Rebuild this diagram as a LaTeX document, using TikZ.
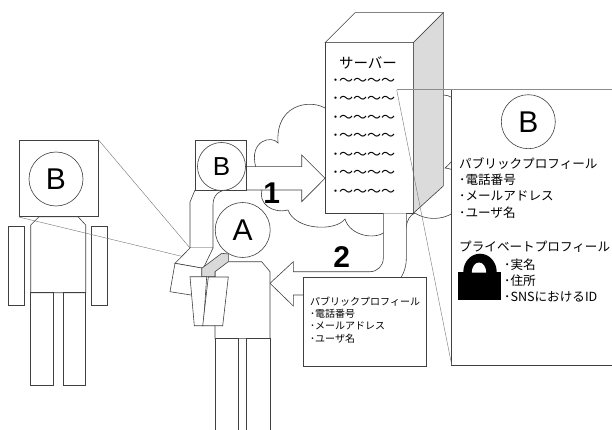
\documentclass[tikz,border=0pt]{standalone}
\usepackage{fontspec}
\setmainfont{Noto Sans CJK JP}
\newfontfamily\latinsans{Liberation Sans}
\tikzset{
  outline/.style={draw=black!75,line width=0.6pt},
  sightline/.style={draw=black!55,line width=0.4pt},
  face/.style={outline,circle,fill=white,inner sep=0pt,minimum size=#1},
  letter/.style={font=\latinsans\fontsize{#1}{#1}\selectfont},
  jp/.style={anchor=west,inner sep=0pt,font=\fontsize{#1}{#1}\selectfont},
  stepnum/.style={inner sep=0pt,font=\latinsans\bfseries\fontsize{30}{30}\selectfont},
}
\begin{document}
\begin{tikzpicture}[x=1pt,y=-1pt]
  \useasboundingbox (0,0) rectangle (612,430);
  \clip (0,0) rectangle (612,430);
  % person B on the left
  \node[outline,minimum width=79pt,minimum height=76.7pt,inner sep=0pt] (boxB) at (58.5,178.3) {};
  \node[face=54pt,letter=30] (headB) at (56,179) {B};
  \draw[outline] (39,216.7) -- (78,216.7) -- (85.7,225) -- (85.7,292.7)
    -- (30.7,292.7) -- (30.7,225) -- cycle;
  \draw[outline] (8.3,226) rectangle (24.3,305);
  \draw[outline] (91.7,226) rectangle (107.7,305);
  \draw[outline] (30.7,292.7) rectangle (53.3,385);
  \draw[outline] (63.3,292.7) rectangle (85.7,385.7);
  % sight lines towards the hand
  \coordinate (handL) at (190,248);
  \coordinate (handM) at (181.7,256.3);
  \draw[sightline] (boxB.north east) -- (handL);
  \draw[sightline] (boxB.south west) -- (handM);
  % cloud behind the server
  \draw[outline,fill=white] (330,112) .. controls (318,98) and (275,100) .. (278,143)
    .. controls (272,135) and (248,140) .. (256,168)
    .. controls (244,175) and (249,190) .. (262,190)
    .. controls (258,203) and (272,214) .. (288,210)
    .. controls (295,230) and (335,232) .. (345,219)
    .. controls (350,236) and (375,240) .. (385,232)
    -- (406,228)
    .. controls (407,220) and (410,215) .. (415,213)
    .. controls (428,222) and (452,220) .. (460,205)
    .. controls (470,190) and (465,170) .. (445,168)
    .. controls (468,150) and (470,95) .. (443,95)
    -- (420,100) -- cycle;
  % server
  \draw[outline,fill=white] (325,42.7) rectangle (413.3,213.3);
  \draw[outline,fill=white] (325,42.7) -- (355,12.7) -- (443.3,12.7) -- (413.3,42.7) -- cycle;
  \draw[outline,fill=black!14] (413.3,42.7) -- (443.3,12.7) -- (443.3,186) -- (413.3,213.3) -- cycle;
  \node[inner sep=0pt,font=\fontsize{14.5}{14.5}\selectfont] (srvname) at (368,63) {サーバー};
  \foreach \row in {0,...,6}
    \node[jp=14] (srvline\row) at (332,{81.7+18.5*\row}) {･〜〜〜〜};
  % arrow 2 back to A
  \draw[outline,fill=white] (383.3,213.3) -- (383.3,258.3)
    .. controls (383.3,265.7) and (377.4,271.7) .. (370,271.7)
    -- (293.3,271.7) -- (293.3,261.7) -- (270,283.3) -- (293.3,306) -- (293.3,295)
    -- (370,295) .. controls (390,295) and (406.3,278.7) .. (406.3,258.7) -- (406.3,213.3);
  \node[stepnum] (two) at (341.7,256.7) {2};
  % raised arm and arrow 1
  \draw[outline,fill=white] (195,190) -- (190,202) -- (190,248) -- (213,248) -- (213,205)
    .. controls (213,196) and (218,190) .. (228,190) -- (301.7,190) -- (301.7,201.7)
    -- (325,178.3) -- (301.7,155) -- (301.7,166.7) -- (246.7,166.7);
  \node[outline,fill=white,minimum width=51.7pt,minimum height=50pt,inner sep=0pt] (screen) at (220.8,165) {};
  \node[face=48pt,letter=26] (headBs) at (221.5,166.5) {B};
  \node[stepnum] (one) at (271.7,193) {1};
  % person A
  \draw[outline,fill=white] (handL) -- (175,263.3) -- (203.3,268.3) -- (213,248);
  \draw[outline,fill=white] (175,263.3) -- (203.3,268.3) -- (201.7,296.7) -- (170,291.7) -- cycle;
  \draw[outline,fill=white] (228.3,261.7) -- (261.7,261.7) -- (270,271.7) -- (270,338.3)
    -- (215,338.3) -- (215,271.7);
  \draw[outline,fill=black!15] (201.7,268.3) -- (221.7,253.3) -- (228.3,254) -- (228.3,261.7)
    -- (215,271.7) -- (215,276.7) -- (201.7,276.7) -- cycle;
  \node[face=55pt,letter=30] (headA) at (242.7,230) {A};
  \draw[outline,fill=white] (190,276.7) -- (206.7,276.7) -- (203.3,325.7) -- (194.3,325.7) -- cycle;
  \draw[outline,fill=white] (208.3,277) -- (228.3,277) -- (222.7,325.7) -- (202.7,325.7) -- cycle;
  \draw[outline,fill=white] (215,338.3) rectangle (238.3,435);
  \draw[outline,fill=white] (246.7,338.3) rectangle (270,435);
  % public profile handed to A
  \draw[outline,fill=white] (303,277.7) rectangle (426.7,366.7);
  \node[jp=10] (pubA) at (310,301.7) {パブリックプロフィール};
  \node[jp=10] (telA) at (310,313.3) {･電話番号};
  \node[jp=10] (mailA) at (310,325.5) {･メールアドレス};
  \node[jp=10] (userA) at (310,338.3) {･ユーザ名};
  % profile of B kept on the server
  \fill[white] (451.7,90) rectangle (615,365);
  \draw[draw=black!45,line width=1pt] (396.7,90) -- (615,90);
  \draw[outline] (451.7,90) -- (451.7,365) -- (615,365);
  \draw[sightline] (396.7,90) -- (451.7,365);
  \node[face=54pt,letter=30] (headBp) at (528.3,121.7) {B};
  \node[jp=12.6] (pubB) at (459,163.3) {パブリックプロフィール};
  \node[jp=12.6] (telB) at (459,179.5) {･電話番号};
  \node[jp=12.6] (mailB) at (459,196) {･メールアドレス};
  \node[jp=12.6] (userB) at (459,213) {･ユーザ名};
  \node[jp=12.6] (privB) at (459,246.7) {プライベートプロフィール};
  % lock
  \fill[black] (458.3,271.7) rectangle (500.7,300);
  \fill[black] (463.3,272) arc[start angle=180,end angle=360,x radius=16.7,y radius=18.3] -- cycle;
  \fill[white] (471.8,272.5) arc[start angle=180,end angle=360,x radius=7.2,y radius=10] -- cycle;
  \node[jp=12.6] (nameB) at (504,264.3) {･実名};
  \node[jp=12.6] (addrB) at (504,280.5) {･住所};
  \node[jp=12.6] (snsB) at (504,297) {･SNSにおけるID};
\end{tikzpicture}
\end{document}
